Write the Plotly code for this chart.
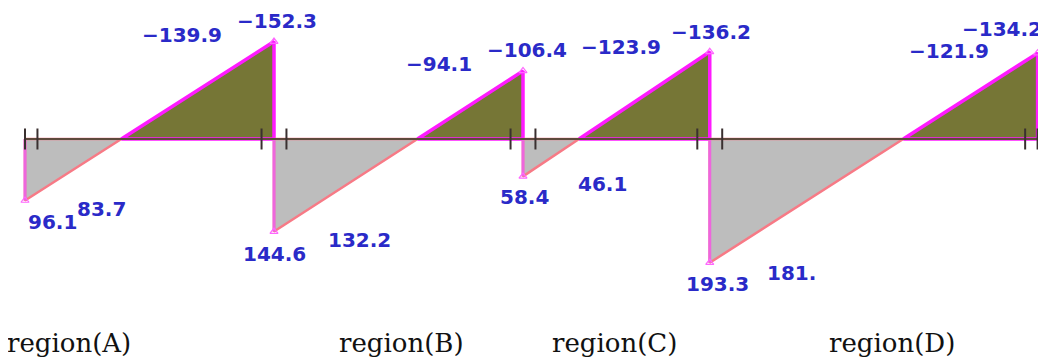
import plotly.graph_objects as go

# ---- data ----
regions = ["region(A)", "region(B)", "region(C)", "region(D)"]
span_lengths = [6.0, 6.0, 4.5, 7.9]           # m
face_offset = 0.3                              # m, distance of face value from support
v_start = [96.1, 144.6, 58.4, 193.3]           # shear at left support
v_start_face = [83.7, 132.2, 46.1, 181.0]      # shear at left face
v_end_face = [-139.9, -94.1, -123.9, -121.9]   # shear at right face
v_end = [-152.3, -106.4, -136.2, -134.2]       # shear at right support
start_labels = ["96.1", "144.6", "58.4", "193.3"]
start_face_labels = ["83.7", "132.2", "46.1", "181."]
end_face_labels = ["\u2212139.9", "\u221294.1", "\u2212123.9", "\u2212121.9"]
end_labels = ["\u2212152.3", "\u2212106.4", "\u2212136.2", "\u2212134.2"]

# ---- styling (pixel offsets of value labels) ----
start_shift = [(1, -21), (0, -22), (1, -21), (8, -21)]
start_face_shift = [(38, -16), (40, -16), (41, -15), (43, -18)]
end_face_shift = [(-38, 14), (-37, 15), (-34, 13), (-34, 10)]
end_shift = [(3, 21), (4, 21), (1, 20), (-36, 24)]

GRAY = "#bdbdbd"
OLIVE = "#767636"
MAGENTA = "#ff1aff"
SALMON = "#f77a86"
BASE = "#5e4a3c"
BLUE = "#2a2ac8"

# the page body has an 8px margin; figure pixel = page pixel - 8
OFF = 8
W, H = 1046 - OFF, 363 - OFF
PX_PER_M = 41.5
PX_PER_KN = 0.64
X0_PAGE = 25
BASE_PAGE = 139

fig = go.Figure()

supports = [0.0]
for L in span_lengths:
    supports.append(supports[-1] + L)

for i in range(len(span_lengths)):
    xs, xe = supports[i], supports[i + 1]
    vs, ve = v_start[i], v_end[i]
    xz = xs + (xe - xs) * vs / (vs - ve)
    # positive (drawn below) part
    fig.add_trace(go.Scatter(x=[xs, xs, xz, xs], y=[0, vs, 0, 0], mode="lines",
                             fill="toself", fillcolor=GRAY,
                             line=dict(color=SALMON, width=2.5), hoverinfo="skip"))
    fig.add_trace(go.Scatter(x=[xs, xs], y=[0, vs], mode="lines",
                             line=dict(color="#ee66dd", width=3), hoverinfo="skip"))
    # negative (drawn above) part
    fig.add_trace(go.Scatter(x=[xz, xe, xe, xz], y=[0, ve, 0, 0], mode="lines",
                             fill="toself", fillcolor=OLIVE,
                             line=dict(color=MAGENTA, width=3.5), hoverinfo="skip"))
    # small open triangles at the corners
    fig.add_trace(go.Scatter(x=[xs, xe], y=[vs, ve], mode="markers",
                             marker=dict(symbol="triangle-up-open", size=7,
                                         color="#ff66ff", line=dict(width=1.2)),
                             hoverinfo="skip"))

# baseline
fig.add_trace(go.Scatter(x=[supports[0], supports[-1]], y=[0, 0], mode="lines",
                         line=dict(color=BASE, width=2), hoverinfo="skip"))
# tick marks at supports and faces
tick_x = [supports[0]]
for i in range(len(span_lengths)):
    tick_x += [supports[i] + face_offset, supports[i + 1] - face_offset]
tick_x.append(supports[-1])
fig.add_trace(go.Scatter(x=tick_x, y=[0] * len(tick_x), mode="markers",
                         marker=dict(symbol="line-ns", size=15,
                                     line=dict(color="#3a3030", width=2)),
                         hoverinfo="skip"))

font_lbl = dict(family="DejaVu Sans, sans-serif", size=20, color=BLUE)
for i in range(len(span_lengths)):
    xs, xe = supports[i], supports[i + 1]
    fig.add_annotation(x=xs, y=v_start[i], text="<b>%s</b>" % start_labels[i],
                       showarrow=False, xanchor="left" if i == 0 else "center",
                       xshift=start_shift[i][0], yshift=start_shift[i][1], font=font_lbl)
    fig.add_annotation(x=xs + face_offset, y=v_start_face[i],
                       text="<b>%s</b>" % start_face_labels[i], showarrow=False,
                       xanchor="left", xshift=start_face_shift[i][0],
                       yshift=start_face_shift[i][1], font=font_lbl)
    fig.add_annotation(x=xe - face_offset, y=v_end_face[i],
                       text="<b>%s</b>" % end_face_labels[i], showarrow=False,
                       xanchor="right", xshift=end_face_shift[i][0],
                       yshift=end_face_shift[i][1], font=font_lbl)
    fig.add_annotation(x=xe, y=v_end[i], text="<b>%s</b>" % end_labels[i],
                       showarrow=False, xanchor="center",
                       xshift=end_shift[i][0], yshift=end_shift[i][1], font=font_lbl)

# region labels
region_x = [5, 337, 550, 827]
for name, px in zip(regions, region_x):
    fig.add_annotation(x=(px - OFF) / W, y=(H - (343 - OFF)) / H,
                       xref="paper", yref="paper",
                       text=name, showarrow=False, xanchor="left", yanchor="middle",
                       font=dict(family="DejaVu Serif, serif", size=26,
                                 color="#111111"))

fx0 = X0_PAGE - OFF
fb = BASE_PAGE - OFF
fig.update_layout(
    width=W, height=H,
    margin=dict(l=0, r=0, t=0, b=0),
    paper_bgcolor="white", plot_bgcolor="white",
    showlegend=False,
    xaxis=dict(range=[-fx0 / PX_PER_M, (W - fx0) / PX_PER_M],
               visible=False, fixedrange=True),
    yaxis=dict(range=[(H - fb) / PX_PER_KN, -fb / PX_PER_KN],
               visible=False, fixedrange=True),
)

fig.write_html("out.html")
